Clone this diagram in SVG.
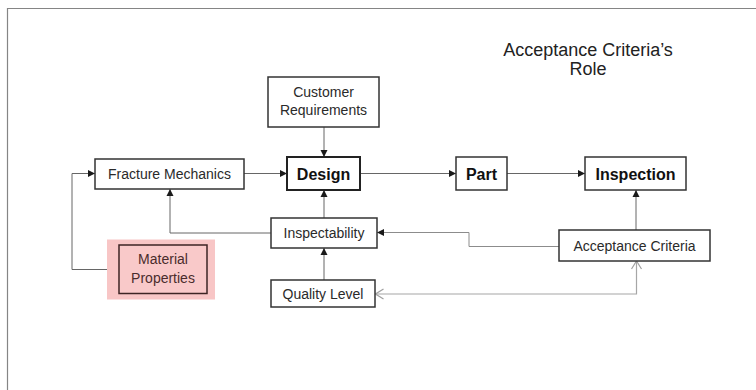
<svg xmlns="http://www.w3.org/2000/svg" width="756" height="390" viewBox="0 0 756 390">
  <style>
    .box { fill: #ffffff; stroke: #333333; stroke-width: 1.5; }
    .bold-box { fill: #ffffff; stroke: #222222; stroke-width: 2; }
    .label { font-family: "Liberation Sans", Arial, sans-serif; font-size: 14px; fill: #2a2a2a; text-anchor: middle; }
    .strong { font-family: "Liberation Sans", Arial, sans-serif; font-size: 16px; font-weight: bold; fill: #111111; text-anchor: middle; }
    .title { font-family: "Liberation Sans", Arial, sans-serif; font-size: 18px; fill: #222222; text-anchor: middle; }
    .link { fill: none; stroke: #666666; stroke-width: 1; }
    .link-soft { fill: none; stroke: #8c8c8c; stroke-width: 1; }
    .link-light { fill: none; stroke: #a6a6a6; stroke-width: 1.2; }
  </style>
  <defs>
    <marker id="solid" markerUnits="userSpaceOnUse" markerWidth="8" markerHeight="8" refX="7" refY="4" orient="auto">
      <path d="M0,0.5 L7,4 L0,7.5 Z" fill="#1a1a1a"/>
    </marker>
    <marker id="open" markerUnits="userSpaceOnUse" markerWidth="10" markerHeight="12" refX="9" refY="6" orient="auto-start-reverse">
      <path d="M1,1 L9,6 L1,11" fill="none" stroke="#a0a0a0" stroke-width="1.2"/>
    </marker>
  </defs>

  <rect width="756" height="390" fill="#ffffff"/>
  <!-- page frame -->
  <path d="M7.5,392 V8.5 H760" fill="none" stroke="#858585" stroke-width="1.2"/>

  <!-- title -->
  <g id="title">
    <text class="title" x="588" y="56">Acceptance Criteria’s</text>
    <text class="title" x="588" y="75">Role</text>
  </g>

  <!-- connectors -->
  <g id="connectors">
    <path class="link" d="M119,269.5 H72 V173.5 H95" marker-end="url(#solid)"/>
    <path class="link" d="M244,173.5 H287" marker-end="url(#solid)"/>
    <path class="link" d="M324,127 V157" marker-end="url(#solid)"/>
    <path class="link" d="M324,218 V190" marker-end="url(#solid)"/>
    <path class="link" d="M271,233 H170 V189" marker-end="url(#solid)"/>
    <path class="link" d="M324,280 V248" marker-end="url(#solid)"/>
    <path class="link" d="M360,173.5 H456" marker-end="url(#solid)"/>
    <path class="link" d="M507,173.5 H585" marker-end="url(#solid)"/>
    <path class="link" d="M636,230 V190" marker-end="url(#solid)"/>
    <path class="link-soft" d="M559,246.5 H469 V232.5 H377" marker-end="url(#solid)"/>
    <path class="link-light" d="M375.5,294 H636.5 V261" marker-start="url(#open)" marker-end="url(#open)"/>
  </g>

  <!-- nodes -->
  <g id="customer-requirements">
    <rect class="box" x="268" y="77" width="111" height="50"/>
    <text class="label" x="323.5" y="97">Customer</text>
    <text class="label" x="323.5" y="115">Requirements</text>
  </g>

  <g id="fracture-mechanics">
    <rect class="box" x="95" y="159" width="149" height="30"/>
    <text class="label" x="169.5" y="179">Fracture Mechanics</text>
  </g>

  <g id="design">
    <rect class="bold-box" x="287" y="157" width="73" height="33"/>
    <text class="strong" x="323.5" y="179.5">Design</text>
  </g>

  <g id="part">
    <rect class="box" x="456" y="157" width="51" height="33"/>
    <text class="strong" x="481.5" y="179.5">Part</text>
  </g>

  <g id="inspection">
    <rect class="box" x="585" y="157" width="101" height="33"/>
    <text class="strong" x="635.5" y="179.5">Inspection</text>
  </g>

  <g id="inspectability">
    <rect class="box" x="271" y="218" width="106" height="30"/>
    <text class="label" x="324" y="238">Inspectability</text>
  </g>

  <g id="acceptance-criteria">
    <rect class="box" x="559" y="230" width="151" height="31"/>
    <text class="label" x="634.5" y="251">Acceptance Criteria</text>
  </g>

  <g id="quality-level">
    <rect class="box" x="271" y="280" width="104" height="27"/>
    <text class="label" x="323" y="299">Quality Level</text>
  </g>

  <g id="material-properties">
    <rect x="107" y="239.5" width="108" height="60" fill="#f8c6c6"/>
    <rect x="119" y="245" width="88" height="48.5" fill="#f9c9c9" stroke="#3d2424" stroke-width="1.5"/>
    <text class="label" x="163" y="264" style="fill:#4a2c2c">Material</text>
    <text class="label" x="163" y="282.5" style="fill:#4a2c2c">Properties</text>
  </g>
</svg>
